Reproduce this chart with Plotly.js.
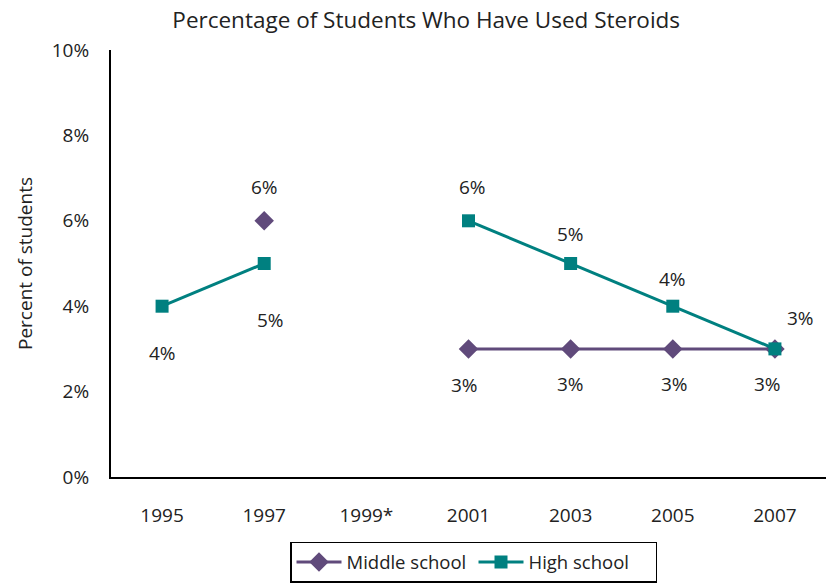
<!DOCTYPE html>
<html>
<head>
<meta charset="utf-8">
<script src="https://cdn.plot.ly/plotly-3.0.1.min.js"></script>
<style>
  html, body { margin: 0; padding: 0; background: #fff; }
  #chart { width: 826px; height: 587px; }
</style>
</head>
<body>
<div id="chart"></div>
<script>
// Survey years (1999 had no data collected)
const years = ['1995', '1997', '1999*', '2001', '2003', '2005', '2007'];
// Percent of students who have used steroids
const middleSchool = [null, 6, null, 3, 3, 3, 3];
const highSchool = [4, 5, null, 6, 5, 4, 3];
const yTicks = [0, 2, 4, 6, 8, 10];

// Pixel offsets of each point's value label
const msLabelShift = [null, [0, 34], null, [-4, -36], [0, -35], [2, -35], [-7, -35]];
const hsLabelShift = [[0, -47], [6, -56], null, [4, 34], [0, 30], [0, 27], [26, 31]];

const PCT = String.fromCharCode(37);
const purple = '#604A7B';
const teal = '#008080';
const FONT = 'Open Sans, sans-serif';
const INK = '#222222';

const traces = [
  {
    name: 'Middle school', x: years, y: middleSchool, type: 'scatter', mode: 'lines+markers',
    line: { color: purple, width: 3 },
    marker: { symbol: 'diamond', size: 15, color: purple }
  },
  {
    name: 'High school', x: years, y: highSchool, type: 'scatter', mode: 'lines+markers',
    line: { color: teal, width: 3 },
    marker: { symbol: 'square', size: 13, color: teal }
  }
];

// Value labels placed at each data point (category axis: x is the category index)
const labels = [];
function addLabels(values, shifts) {
  for (let i = 0; i < values.length; i++) {
    const v = values[i];
    if (v === null) continue;
    labels.push({
      x: i, y: v, xref: 'x', yref: 'y',
      text: v + PCT, showarrow: false,
      xshift: shifts[i][0], yshift: shifts[i][1],
      font: { family: FONT, size: 19, color: INK }
    });
  }
}
addLabels(middleSchool, msLabelShift);
addLabels(highSchool, hsLabelShift);

const layout = {
  width: 826, height: 587,
  margin: { l: 111, r: 0, t: 50, b: 110, autoexpand: false },
  paper_bgcolor: '#ffffff', plot_bgcolor: '#ffffff',
  font: { family: FONT, size: 19, color: INK },
  title: {
    text: 'Percentage of Students Who Have Used Steroids',
    x: 0.516, xanchor: 'center', y: 0.965, yanchor: 'middle',
    font: { family: FONT, size: 22.5, color: INK }
  },
  showlegend: true,
  legend: {
    orientation: 'h', x: 0.507, xanchor: 'center', y: -0.152, yanchor: 'top',
    bordercolor: '#000000', borderwidth: 1.5,
    itemwidth: 45, entrywidth: 122,
    font: { family: FONT, size: 18.5, color: INK }
  },
  xaxis: {
    type: 'category', categoryorder: 'array', categoryarray: years,
    range: [-0.5, 6.5],
    showline: true, linecolor: '#000000', linewidth: 2,
    showgrid: false, zeroline: false, ticks: 'outside', ticklen: 20, tickcolor: 'rgba(0,0,0,0)',
    tickfont: { family: FONT, size: 19, color: INK }
  },
  yaxis: {
    range: [0, 10], tickmode: 'array', tickvals: yTicks, ticktext: yTicks.map(v => v + PCT),
    showline: true, linecolor: '#000000', linewidth: 2,
    showgrid: false, zeroline: false, ticks: 'outside', ticklen: 16, tickcolor: 'rgba(0,0,0,0)',
    tickfont: { family: FONT, size: 19, color: INK },
    title: { text: 'Percent of students', standoff: 14, font: { family: FONT, size: 19, color: INK } }
  },
  annotations: labels
};

Plotly.newPlot('chart', traces, layout, { displayModeBar: false });
</script>
</body>
</html>
